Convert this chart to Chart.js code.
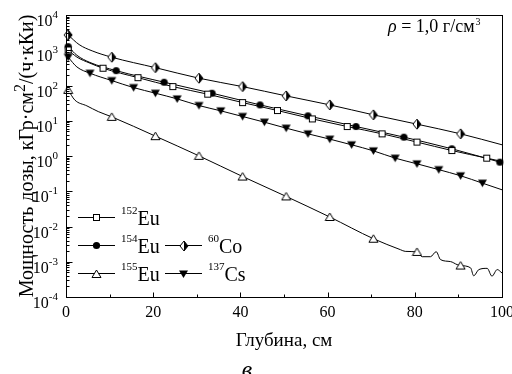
<!DOCTYPE html>
<html>
<head>
<meta charset="utf-8">
<script src="https://cdn.jsdelivr.net/npm/chart.js@4"></script>
<style>
  html, body { margin: 0; padding: 0; background: #fff; }
  #wrap { width: 512px; height: 374px; position: relative; }
</style>
</head>
<body>
<div id="wrap"><canvas id="doseChart"></canvas></div>
<script>
// depth in cm, dose rate in kGy*cm2/(h*kCi)
const eu152Depth = [0.5, 2.5, 5.5, 8.5, 16.5, 24.5, 32.5, 40.5, 48.5, 56.5, 64.5, 72.5, 80.5, 88.5, 96.5, 100];
const eu152Dose = [1020, 640, 430, 309, 167, 93, 56.7, 32.8, 19.5, 11.3, 6.86, 4.26, 2.48, 1.43, 0.87, 0.7];
const eu152Marks = [0.5, 8.5, 16.5, 24.5, 32.5, 40.5, 48.5, 56.5, 64.5, 72.5, 80.5, 88.5, 96.5];

const eu154Depth = [0.5, 2.5, 5.5, 11.5, 22.5, 33.5, 44.5, 55.5, 66.5, 77.5, 88.5, 99.5];
const eu154Dose = [1265, 720, 450, 264, 124, 60.5, 28.2, 13.8, 6.86, 3.43, 1.6, 0.67];
const eu154Marks = [0.5, 11.5, 22.5, 33.5, 44.5, 55.5, 66.5, 77.5, 88.5, 99.5];

const eu155Depth = [0.5, 2, 4.8, 7.4, 10.5, 20.5, 30.5, 40.5, 50.5, 60.5, 70.5, 76.7, 77.8, 80.5, 81.7, 83.6, 84.9, 85.9, 88.2, 89.7, 90.5, 92.8, 93.5, 94.7, 96.6, 97.7, 98.9, 100];
const eu155Dose = [75, 39, 26.4, 18.2, 12.9, 3.66, 1.01, 0.262, 0.0713, 0.0186, 0.00451, 0.0022, 0.00197, 0.0019, 0.00139, 0.00139, 0.00193, 0.00115, 0.00101, 0.00083, 0.00078, 0.00067, 0.0004, 0.0006, 0.00065, 0.00039, 0.0006, 0.00048];
const eu155Marks = [0.5, 10.5, 20.5, 30.5, 40.5, 50.5, 60.5, 70.5, 80.5, 90.5];

const co60Depth = [0.5, 3, 6, 10.5, 20.5, 30.5, 40.5, 50.5, 60.5, 70.5, 80.5, 90.5, 100];
const co60Dose = [2710, 1450, 960, 634, 321, 161, 93, 50.7, 28.2, 14.7, 8.0, 4.26, 2.08];
const co60Marks = [0.5, 10.5, 20.5, 30.5, 40.5, 50.5, 60.5, 70.5, 80.5, 90.5];

const cs137Depth = [0.5, 2.5, 5.5, 10.5, 15.5, 20.5, 25.5, 30.5, 35.5, 40.5, 45.5, 50.5, 55.5, 60.5, 65.5, 70.5, 75.5, 80.5, 85.5, 90.5, 95.5, 100];
const cs137Dose = [634, 336, 223, 138, 87.3, 60.5, 41.7, 27, 19.1, 13.2, 9.12, 6.17, 4.26, 3.01, 2.08, 1.4, 0.87, 0.6, 0.41, 0.275, 0.17, 0.11];
const cs137Marks = [0.5, 5.5, 10.5, 15.5, 20.5, 25.5, 30.5, 35.5, 40.5, 45.5, 50.5, 55.5, 60.5, 65.5, 70.5, 75.5, 80.5, 85.5, 90.5, 95.5];

const xTicks = [0, 20, 40, 60, 80, 100];
const yExponents = [-4, -3, -2, -1, 0, 1, 2, 3, 4];

const SERIF = '"Liberation Serif", "Times New Roman", serif';

function makeMarker(w, h, draw) {
  const c = document.createElement("canvas");
  c.width = w;
  c.height = h;
  const g = c.getContext("2d");
  g.lineWidth = 1;
  g.strokeStyle = "#000";
  g.fillStyle = "#000";
  draw(g);
  return c;
}

const openSquare = makeMarker(9, 9, (g) => {
  g.fillStyle = "#fff";
  g.fillRect(1.5, 1.5, 6, 6);
  g.strokeRect(1.5, 1.5, 6, 6);
});
const filledCircle = makeMarker(9, 9, (g) => {
  g.beginPath();
  g.arc(4.5, 4.5, 3.6, 0, Math.PI * 2);
  g.fill();
});
const openTriangle = makeMarker(11, 10, (g) => {
  g.beginPath();
  g.moveTo(5.5, 1);
  g.lineTo(10, 8.5);
  g.lineTo(1, 8.5);
  g.closePath();
  g.fillStyle = "#fff";
  g.fill();
  g.stroke();
});
const downTriangle = makeMarker(11, 10, (g) => {
  g.beginPath();
  g.moveTo(1, 1.5);
  g.lineTo(10, 1.5);
  g.lineTo(5.5, 9);
  g.closePath();
  g.fill();
});
const halfDiamond = makeMarker(10, 12, (g) => {
  g.beginPath();
  g.moveTo(5, 1);
  g.lineTo(9, 6);
  g.lineTo(5, 11);
  g.lineTo(1, 6);
  g.closePath();
  g.fillStyle = "#fff";
  g.fill();
  g.beginPath();
  g.moveTo(5, 1);
  g.lineTo(9, 6);
  g.lineTo(5, 11);
  g.closePath();
  g.fillStyle = "#000";
  g.fill();
  g.beginPath();
  g.moveTo(5, 1);
  g.lineTo(9, 6);
  g.lineTo(5, 11);
  g.lineTo(1, 6);
  g.closePath();
  g.stroke();
});

function series(label, depth, dose, marks, marker) {
  return {
    label: label,
    data: depth.map((x, i) => ({ x: x, y: dose[i] })),
    borderColor: "#000",
    borderWidth: 1,
    backgroundColor: "#000",
    pointStyle: marker,
    pointRadius: (ctx) => (marks.includes(depth[ctx.dataIndex]) ? 4 : 0),
    pointHoverRadius: 0,
    cubicInterpolationMode: "monotone",
    clip: false,
  };
}

const datasets = [
  series("152Eu", eu152Depth, eu152Dose, eu152Marks, openSquare),
  series("154Eu", eu154Depth, eu154Dose, eu154Marks, filledCircle),
  series("155Eu", eu155Depth, eu155Dose, eu155Marks, openTriangle),
  series("60Co", co60Depth, co60Dose, co60Marks, halfDiamond),
  series("137Cs", cs137Depth, cs137Dose, cs137Marks, downTriangle),
];

// legend entries: [mass number, element, marker, column, row]
const legendItems = [
  ["152", "Eu", openSquare, 0, 0],
  ["154", "Eu", filledCircle, 0, 1],
  ["155", "Eu", openTriangle, 0, 2],
  ["60", "Co", halfDiamond, 1, 1],
  ["137", "Cs", downTriangle, 1, 2],
];

const framePlugin = {
  id: "frame",
  afterDraw(chart) {
    const ctx = chart.ctx;
    const area = chart.chartArea;
    const xs = chart.scales.x;
    const ys = chart.scales.y;
    ctx.save();
    ctx.strokeStyle = "#000";
    ctx.fillStyle = "#000";
    ctx.lineWidth = 1;

    ctx.strokeRect(Math.round(area.left) + 0.5, Math.round(area.top) + 0.5,
      Math.round(area.right - area.left), Math.round(area.bottom - area.top));

    // y ticks (inward), major and minor
    const lx = Math.round(area.left) + 0.5;
    ctx.beginPath();
    for (let e = -4; e <= 4; e++) {
      const y = Math.round(ys.getPixelForValue(Math.pow(10, e))) + 0.5;
      ctx.moveTo(lx, y);
      ctx.lineTo(lx + 6, y);
      if (e < 4) {
        for (let m = 2; m <= 9; m++) {
          const ym = Math.round(ys.getPixelForValue(m * Math.pow(10, e))) + 0.5;
          ctx.moveTo(lx, ym);
          ctx.lineTo(lx + 3, ym);
        }
      }
    }
    // x ticks
    const by = Math.round(area.bottom) + 0.5;
    for (let v = 10; v < 100; v += 10) {
      const x = Math.round(xs.getPixelForValue(v)) + 0.5;
      ctx.moveTo(x, by);
      ctx.lineTo(x, by - (v % 20 === 0 ? 5 : 3));
    }
    ctx.stroke();

    // y tick labels 10^n
    yExponents.forEach((e) => {
      const y = ys.getPixelForValue(Math.pow(10, e));
      ctx.font = "16px " + SERIF;
      const wBase = ctx.measureText("10").width;
      ctx.font = "11px " + SERIF;
      const expText = String(e);
      const wExp = ctx.measureText(expText).width;
      const x0 = 58 - wBase - wExp;
      ctx.textAlign = "left";
      ctx.textBaseline = "alphabetic";
      ctx.font = "16px " + SERIF;
      ctx.fillText("10", x0, y + 11);
      ctx.font = "11px " + SERIF;
      ctx.fillText(expText, x0 + wBase, y + 3);
    });

    // x tick labels
    ctx.font = "16px " + SERIF;
    ctx.textAlign = "center";
    xTicks.forEach((v) => {
      ctx.fillText(String(v), xs.getPixelForValue(v), 317);
    });

    // x title
    ctx.font = "19px " + SERIF;
    ctx.fillText("Глубина, см", (area.left + area.right) / 2, 346);

    // y title (rotated, with superscript 2)
    ctx.save();
    ctx.translate(33, (area.top + area.bottom) / 2);
    ctx.rotate(-Math.PI / 2);
    const t1 = "Мощность дозы, кГр·см";
    const t2 = "2";
    const t3 = "/(ч·кКи)";
    ctx.font = "20px " + SERIF;
    const w1 = ctx.measureText(t1).width;
    const w3 = ctx.measureText(t3).width;
    ctx.font = "16px " + SERIF;
    const w2 = ctx.measureText(t2).width;
    let tx = -(w1 + w2 + w3) / 2;
    ctx.textAlign = "left";
    ctx.font = "20px " + SERIF;
    ctx.fillText(t1, tx, 0);
    tx += w1;
    ctx.font = "16px " + SERIF;
    ctx.fillText(t2, tx, -8);
    tx += w2;
    ctx.font = "20px " + SERIF;
    ctx.fillText(t3, tx, 0);
    ctx.restore();

    // density note
    ctx.textAlign = "left";
    ctx.font = "italic 18px " + SERIF;
    let nx = 388;
    ctx.fillText("ρ", nx, 32);
    nx += ctx.measureText("ρ").width;
    ctx.font = "18px " + SERIF;
    const note = " = 1,0 г/см";
    ctx.fillText(note, nx, 32);
    nx += ctx.measureText(note).width;
    ctx.font = "10px " + SERIF;
    ctx.fillText("3", nx + 1, 25);

    // legend
    const rowY = [217.5, 245.5, 273.5];
    const colX = [78, 165];
    legendItems.forEach(([mass, elem, marker, col, row]) => {
      const x1 = colX[col];
      const y = rowY[row];
      ctx.beginPath();
      ctx.moveTo(x1, y);
      ctx.lineTo(x1 + 37, y);
      ctx.stroke();
      ctx.drawImage(marker, Math.round(x1 + 18.5 - marker.width / 2), Math.round(y - marker.height / 2));
      let sx = x1 + 43;
      ctx.font = "11px " + SERIF;
      ctx.fillText(mass, sx, y - 4);
      sx += ctx.measureText(mass).width;
      ctx.font = "20px " + SERIF;
      ctx.fillText(elem, sx, y + 7);
    });

    // panel letter
    ctx.font = "italic 24px " + SERIF;
    ctx.textAlign = "center";
    ctx.fillText("в", 247, 377);

    ctx.restore();
  },
};

new Chart(document.getElementById("doseChart"), {
  type: "line",
  data: { datasets: datasets },
  options: {
    responsive: true,
    maintainAspectRatio: false,
    animation: false,
    layout: { padding: { left: 66, right: 10, top: 15, bottom: 77 } },
    plugins: {
      legend: { display: false },
      tooltip: { enabled: false },
    },
    scales: {
      x: { type: "linear", min: 0, max: 100, display: false },
      y: { type: "logarithmic", min: 1e-4, max: 1e4, display: false },
    },
  },
  plugins: [framePlugin],
});
</script>
</body>
</html>
